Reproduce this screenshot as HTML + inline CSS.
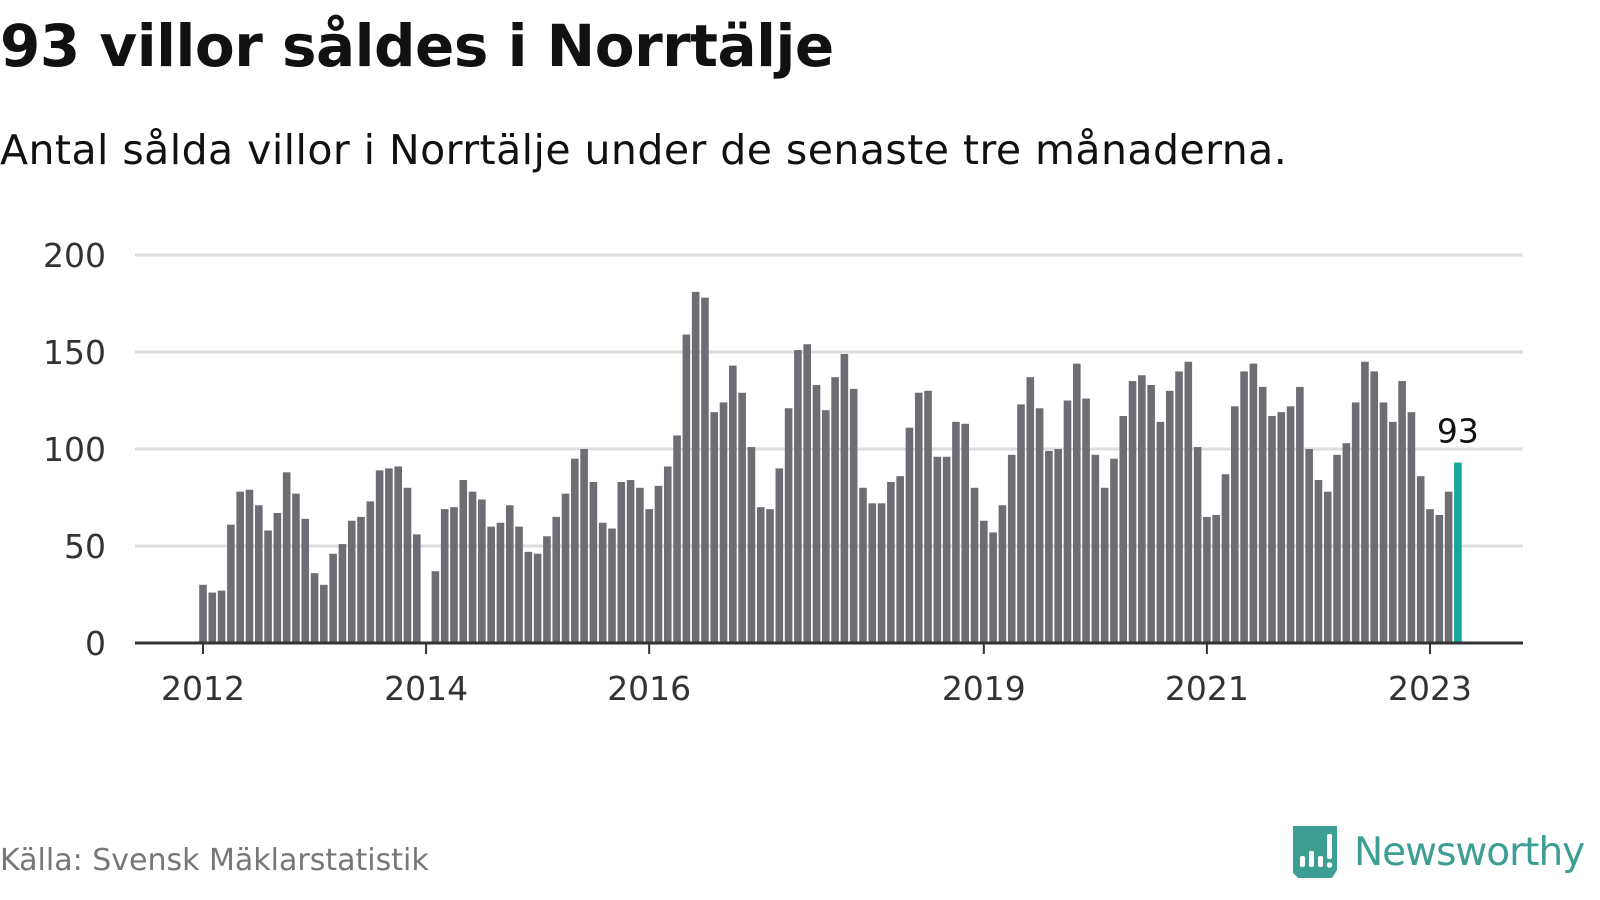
<!DOCTYPE html>
<html><head><meta charset="utf-8">
<style>
body{margin:0;background:#fff;width:1600px;height:900px;overflow:hidden;font-family:"Liberation Sans","DejaVu Sans",sans-serif;}
#title{position:absolute;left:0;top:12px;font-size:58px;font-weight:bold;color:#111;letter-spacing:-0.5px;margin:0;font-family:"DejaVu Sans","Liberation Sans",sans-serif}
#sub{position:absolute;left:0;top:126px;font-size:41px;color:#111;letter-spacing:0.45px;font-family:"DejaVu Sans","Liberation Sans",sans-serif}
#src{position:absolute;left:0;top:843px;font-size:30px;color:#777;font-family:"DejaVu Sans","Liberation Sans",sans-serif}
#logo{position:absolute;left:1290px;top:826px}
</style></head><body>
<div id="title">93 villor såldes i Norrtälje</div>
<div id="sub">Antal sålda villor i Norrtälje under de senaste tre månaderna.</div>
<svg id="chart" width="1600" height="900" style="position:absolute;left:0;top:0"></svg>
<div id="src">Källa: Svensk Mäklarstatistik</div>
<div id="logo" style="display:flex;align-items:center">
<svg width="50" height="52" viewBox="0 0 50 52"><path d="M3 0H47V44L42 52H8L3 47Z" fill="#3d9e93"/><rect x="10" y="30" width="5" height="11" rx="2" fill="#fff"/><rect x="19" y="25" width="5" height="16" rx="2" fill="#fff"/><rect x="28" y="30" width="5" height="11" rx="2" fill="#fff"/><rect x="37" y="8" width="5" height="25" rx="2" fill="#fff"/><circle cx="39.5" cy="39" r="2.8" fill="#fff"/></svg>
<span style="font-size:39px;color:#3d9e93;margin-left:14px;font-family:'DejaVu Sans','Liberation Sans',sans-serif;letter-spacing:-1px">Newsworthy</span>
</div>
<script>
const values = [
30,26,27,61,78,79,71,58,67,88,77,64,
36,30,46,51,63,65,73,89,90,91,80,56,
null,37,69,70,84,78,74,60,62,71,60,47,
46,55,65,77,95,100,83,62,59,83,84,80,
69,81,91,107,159,181,178,119,124,143,129,101,
70,69,90,121,151,154,133,120,137,149,131,80,
72,72,83,86,111,129,130,96,96,114,113,80,
63,57,71,97,123,137,121,99,100,125,144,126,
97,80,95,117,135,138,133,114,130,140,145,101,
65,66,87,122,140,144,132,117,119,122,132,100,
84,78,97,103,124,145,140,124,114,135,119,86,
69,66,78,93];
const yTicks = [0,50,100,150,200];
const xTickLabels = ["2012","2014","2016","2019","2021","2023"];
const xTickIndex = [0,24,48,84,108,132];

const svg = document.getElementById('chart');
const NS = 'http://www.w3.org/2000/svg';
const y0 = 643, yScale = (643-255)/200;
const x0 = 203, step = (1430-203)/132;
const yPos = v => y0 - v*yScale;
const xPos = i => x0 + i*step;
function mk(tag, attrs){const e=document.createElementNS(NS,tag);for(const k in attrs)e.setAttribute(k,attrs[k]);svg.appendChild(e);return e;}

yTicks.forEach(t=>{
  if(t>0){const g=mk('line',{x1:135,x2:1523,y1:yPos(t),y2:yPos(t),stroke:'#dedede','stroke-width':3});
  
  }
  const tx=mk('text',{x:106,y:yPos(t)+12,'text-anchor':'end','font-size':33,fill:'#333','font-family':'DejaVu Sans, Liberation Sans, sans-serif'});
  tx.textContent=t;
  
  
});
values.forEach((v,i)=>{
  if(v==null) return;
  const last = i===values.length-1;
  const r=mk('rect',{x:xPos(i)-3.8,y:yPos(v),width:7.6,height:v*yScale,fill:last?'#14a89b':'#6e6d73'});
  
  
  if(last){const l=mk('text',{x:xPos(i),y:yPos(v)-20,'text-anchor':'middle','font-size':33,fill:'#111','font-family':'DejaVu Sans, Liberation Sans, sans-serif'});
  l.textContent=v;
  
  }
});
const base=mk('line',{x1:135,x2:1523,y1:y0,y2:y0,stroke:'#333','stroke-width':3});


xTickIndex.forEach((idx,k)=>{
  const x=xPos(idx);
  const tk=mk('line',{x1:x,x2:x,y1:y0,y2:y0+11,stroke:'#333','stroke-width':2});
  
  
  const tx=mk('text',{x:x,y:700,'text-anchor':'middle','font-size':33,fill:'#333','font-family':'DejaVu Sans, Liberation Sans, sans-serif'});
  tx.textContent=xTickLabels[k];
  
  
});
</script>
</body></html>
